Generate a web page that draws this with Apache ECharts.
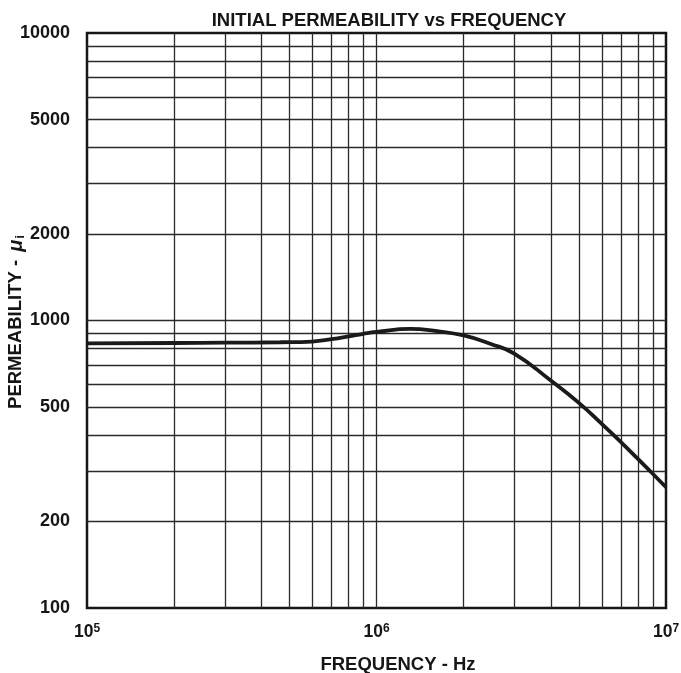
<!DOCTYPE html>
<html>
<head>
<meta charset="utf-8">
<script src="https://cdn.jsdelivr.net/npm/echarts@6/dist/echarts.min.js"></script>
<style>
  html, body { margin: 0; padding: 0; background: #fff; }
  #chart { width: 681px; height: 673px; }
</style>
</head>
<body>
<div id="chart"></div>
<script>
// Initial permeability curve (frequency in Hz, permeability μi)
const frequency = [1e5, 2e5, 3e5, 4.66e5, 6e5, 7e5, 8e5, 9e5, 1e6, 1.31e6, 1.62e6, 2e6, 2.47e6, 3e6, 4e6, 5e6, 6e6, 7e6, 8e6, 9e6, 1e7];
const permeability = [832, 835, 837, 840, 845, 861, 880, 899, 913, 935, 918, 887, 830, 766, 618, 517, 437, 377, 330, 293, 263];

// Log-grid lines and tick labels
const xGrid = [2e5, 3e5, 4e5, 5e5, 6e5, 7e5, 8e5, 9e5, 1e6, 2e6, 3e6, 4e6, 5e6, 6e6, 7e6, 8e6, 9e6];
const yGrid = [200, 300, 400, 500, 600, 700, 800, 900, 1000, 2000, 3000, 4000, 5000, 6000, 7000, 8000, 9000];
const xTickLabels = [1e5, 1e6, 1e7];
const yTickLabels = [100, 200, 500, 1000, 2000, 5000, 10000];

const FONT = 'Liberation Sans, Arial, sans-serif';
const INK = '#161616';
const chart = echarts.init(document.getElementById('chart'));

const gridMarks = xGrid.map(v => ({ xAxis: v })).concat(yGrid.map(v => ({ yAxis: v })));

chart.setOption({
  animation: false,
  title: [{
    text: 'INITIAL PERMEABILITY vs FREQUENCY',
    left: 384, top: 6, textAlign: 'center',
    textStyle: { fontFamily: FONT, fontWeight: 'bold', fontSize: 18.5, color: INK }
  }, {
    text: 'FREQUENCY - Hz',
    left: 393, top: 650, textAlign: 'center',
    textStyle: { fontFamily: FONT, fontWeight: 'bold', fontSize: 18.5, color: INK }
  }],
  // Vertical axis title, rotated, with italic μ and subscript i
  graphic: [{
    type: 'text',
    x: 16, y: 322,
    rotation: Math.PI / 2,
    style: {
      text: '{t|PERMEABILITY - }{m|μ}{i|i}',
      align: 'center', verticalAlign: 'middle',
      rich: {
        t: { fontFamily: FONT, fontWeight: 'bold', fontSize: 18.5, fill: INK },
        m: { fontFamily: FONT, fontWeight: 'bold', fontStyle: 'italic', fontSize: 20, fill: INK, padding: [0, 0, 0, 3] },
        i: { fontFamily: FONT, fontWeight: 'bold', fontSize: 13, fill: INK, padding: [9, 0, 0, 1] }
      }
    }
  }],
  grid: {
    left: 87, top: 33, width: 579, height: 575,
    containLabel: false, outerBoundsMode: 'none',
    show: true, borderColor: INK, borderWidth: 2.5, backgroundColor: 'transparent'
  },
  xAxis: {
    type: 'log', logBase: 10, min: 1e5, max: 1e7,
    axisLine: { show: false }, axisTick: { show: false },
    splitLine: { show: false },
    axisLabel: {
      customValues: xTickLabels,
      margin: 15,
      formatter: v => '{b|10}{s|' + Math.round(Math.log10(v)) + '}',
      rich: {
        b: { fontFamily: FONT, fontWeight: 'bold', fontSize: 17.5, color: INK },
        s: { fontFamily: FONT, fontWeight: 'bold', fontSize: 12, color: INK, verticalAlign: 'top', padding: [0, 0, 7, 0] }
      }
    }
  },
  yAxis: {
    type: 'log', logBase: 10, min: 100, max: 10000,
    axisLine: { show: false }, axisTick: { show: false },
    splitLine: { show: false },
    axisLabel: {
      customValues: yTickLabels,
      margin: 17,
      formatter: v => String(Math.round(v)),
      fontFamily: FONT, fontWeight: 'bold', fontSize: 18, color: INK
    }
  },
  series: [{
    type: 'line',
    data: frequency.map((f, i) => [f, permeability[i]]),
    smooth: 0.5,
    showSymbol: false,
    lineStyle: { color: '#1a1a1a', width: 3.8 },
    z: 5,
    markLine: {
      silent: true, symbol: 'none', animation: false,
      label: { show: false },
      lineStyle: { color: '#2a2a2a', width: 1.3, type: 'solid' },
      data: gridMarks
    }
  }]
});
</script>
</body>
</html>
